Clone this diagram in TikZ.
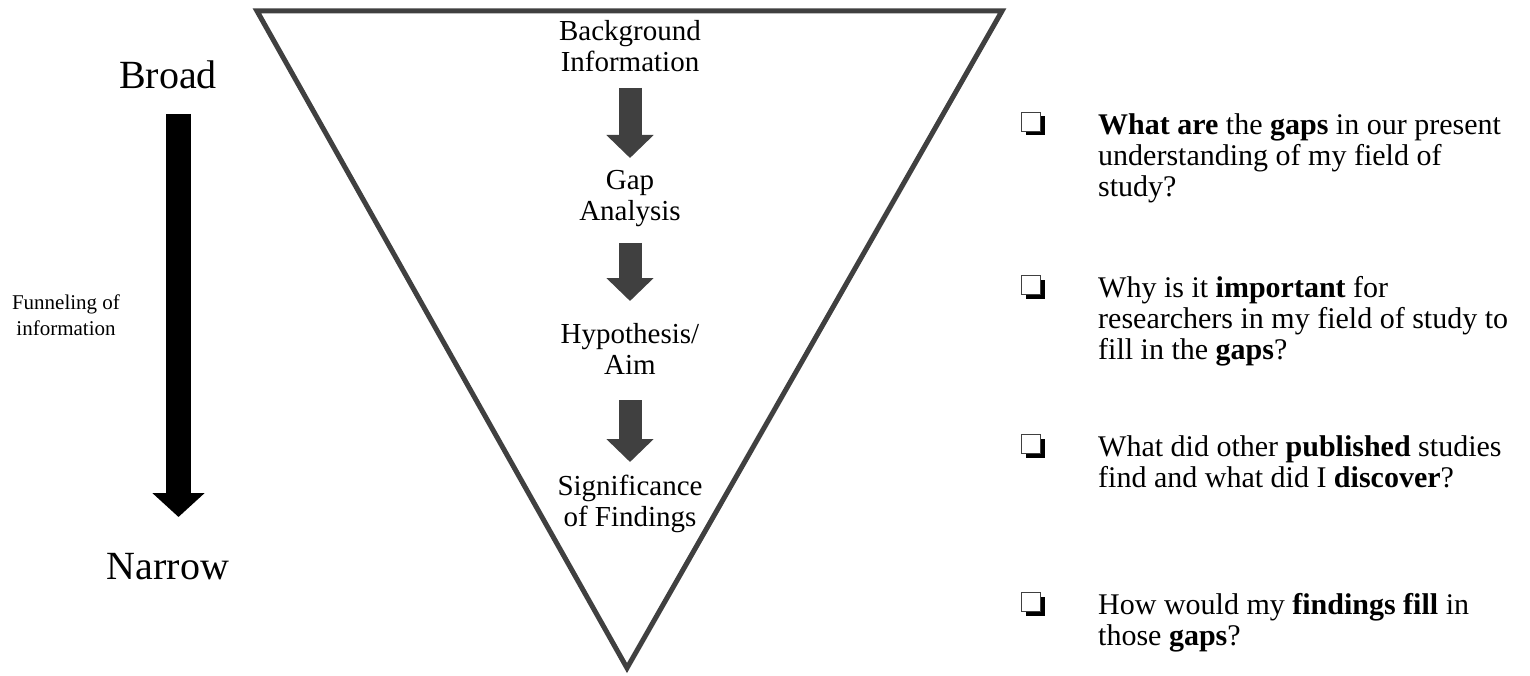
\documentclass[tikz,border=0pt]{standalone}
\usepackage{fontspec}
\setmainfont{Liberation Serif}
\usetikzlibrary{arrows.meta,shadows}
\definecolor{tri}{HTML}{404040}
\begin{document}
\begin{tikzpicture}[x=1pt,y=-1pt,
  stage/.style={align=center,font=\fontsize{29}{31}\selectfont,inner sep=0pt},
  side/.style={font=\fontsize{40}{44}\selectfont,inner sep=0pt},
  small/.style={align=center,font=\fontsize{21}{26}\selectfont,inner sep=0pt},
  item/.style={anchor=north west,align=left,font=\fontsize{30}{31}\selectfont,inner sep=0pt},
  chk/.style={draw=tri,line width=1.5pt,fill=white,minimum size=19pt,inner sep=0pt,
    drop shadow={shadow xshift=4pt,shadow yshift=-4pt,fill=black,opacity=1}},
  grayarrow/.style={draw=tri,line width=23pt,-{Triangle[width=46pt,length=23pt]}},
  bigarrow/.style={draw=black,line width=25pt,-{Triangle[width=51pt,length=24pt]}},
  funnel/.style={draw=tri,line width=5pt,line join=miter}]
\useasboundingbox (0,0) rectangle (1530,676);
% funnel triangle
\coordinate (tl) at (257,11);
\coordinate (tr) at (1002,11);
\coordinate (ap) at (627,668);
\draw[funnel] (tl) -- (tr) -- (ap) -- cycle;
% stages
\node[stage] (bg) at (630,46) {Background\\Information};
\node[stage] (gap) at (630,199) {Gap\\Analysis};
\node[stage] (hyp) at (630,349) {Hypothesis/\\Aim};
\node[stage] (sig) at (630,504) {Significance\\of Findings};
\coordinate (a1s) at (630,88);  \coordinate (a1e) at (630,158);
\coordinate (a2s) at (630,243); \coordinate (a2e) at (630,301);
\coordinate (a3s) at (630,400); \coordinate (a3e) at (630,462);
\draw[grayarrow] (a1s) -- (a1e);
\draw[grayarrow] (a2s) -- (a2e);
\draw[grayarrow] (a3s) -- (a3e);
% left side
\node[side] (broad) at (168,75) {Broad};
\node[side] (narrow) at (168,567) {Narrow};
\node[small] (fun) at (66,315) {Funneling of\\information};
\coordinate (ls) at (178.5,114);
\coordinate (le) at (178.5,517);
\draw[bigarrow] (ls) -- (le);
% checklist
\node[chk] (c1) at (1031,122) {};
\node[chk] (c2) at (1031,285) {};
\node[chk] (c3) at (1031,444) {};
\node[chk] (c4) at (1031,602) {};
\node[item] (t1) at (1098,113) {\textbf{What are} the \textbf{gaps} in our present\\understanding of my field of\\study?};
\node[item] (t2) at (1098,276) {Why is it \textbf{important} for\\researchers in my field of study to\\fill in the \textbf{gaps}?};
\node[item] (t3) at (1098,435) {What did other \textbf{published} studies\\find and what did I \textbf{discover}?};
\node[item] (t4) at (1098,593) {How would my \textbf{findings fill} in\\those \textbf{gaps}?};
\end{tikzpicture}
\end{document}
